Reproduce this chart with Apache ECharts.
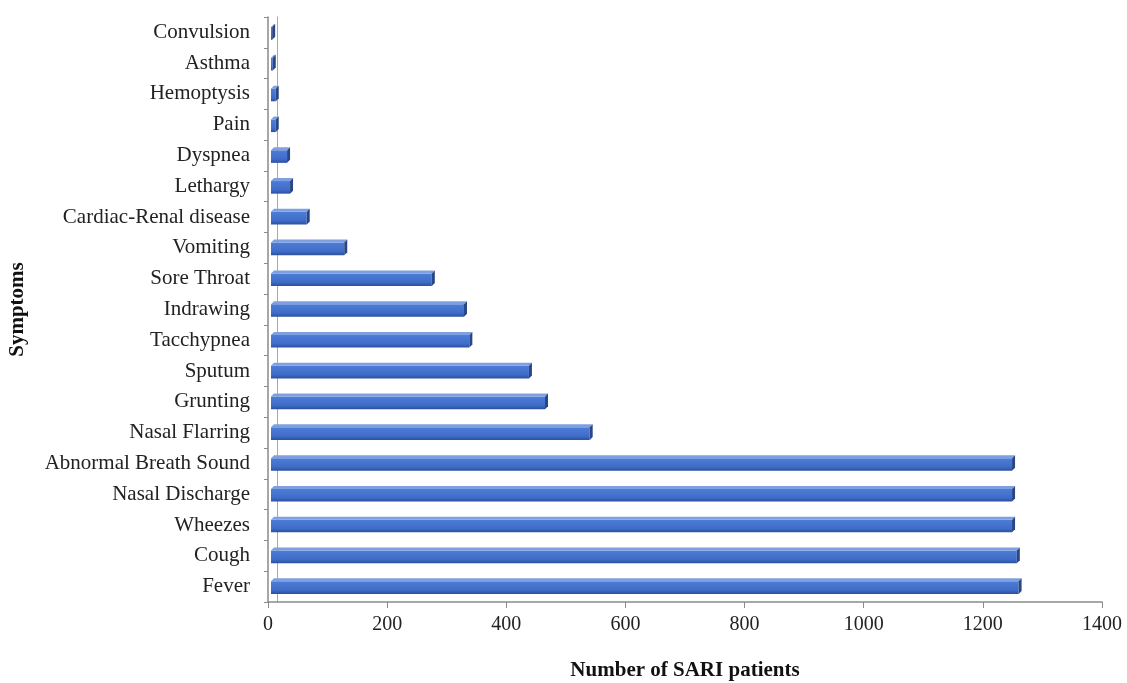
<!DOCTYPE html>
<html>
<head>
<meta charset="utf-8">
<script src="https://cdn.jsdelivr.net/npm/echarts@6/dist/echarts.min.js"></script>
<style>
  html, body { margin: 0; padding: 0; background: #fff; }
  #chart { width: 1127px; height: 683px; }
</style>
</head>
<body>
<div id="chart"></div>
<script>
// Symptoms, listed from the bottom row upwards
const symptoms = [
  'Fever', 'Cough', 'Wheezes', 'Nasal Discharge', 'Abnormal Breath Sound',
  'Nasal Flarring', 'Grunting', 'Sputum', 'Tacchypnea', 'Indrawing',
  'Sore Throat', 'Vomiting', 'Cardiac-Renal disease', 'Lethargy', 'Dyspnea',
  'Pain', 'Hemoptysis', 'Asthma', 'Convulsion'
];
// Number of SARI patients per symptom
const patients = [
  1260, 1257, 1249, 1249, 1249,
  540, 465, 438, 338, 329,
  275, 128, 65, 37, 32,
  13, 13, 8, 7
];
const xTicks = { min: 0, max: 1400, interval: 200 };

const FONT = '"Liberation Serif", "DejaVu Serif", serif';

const chart = echarts.init(document.getElementById('chart'));

// Bars drawn as a front face plus a thin top and end face for a raised look
function renderBar(params, api) {
  const idx = api.value(1);
  const base = api.coord([0, idx]);
  const tip = api.coord([api.value(0), idx]);
  const band = api.size([0, 1])[1];
  const h = band * 0.41;
  const d = 3;
  const y = base[1] - h / 2 + 1;
  const x0 = base[0] + 3;
  const x1 = Math.max(tip[0], x0 + 1);
  return {
    type: 'group',
    children: [
      {
        type: 'rect',
        shape: { x: x0, y: y, width: x1 - x0, height: h },
        style: {
          fill: new echarts.graphic.LinearGradient(0, 0, 0, 1, [
            { offset: 0, color: '#4D7DD6' },
            { offset: 0.7, color: '#3F6CC8' },
            { offset: 1, color: '#2B509E' }
          ])
        }
      },
      {
        type: 'polygon',
        shape: { points: [[x0, y], [x0 + d, y - d], [x1 + d, y - d], [x1, y]] },
        style: { fill: '#7E9FE0' }
      },
      {
        type: 'polygon',
        shape: { points: [[x1, y], [x1 + d, y - d], [x1 + d, y + h - d], [x1, y + h]] },
        style: { fill: '#294686' }
      }
    ]
  };
}

chart.setOption({
  animation: false,
  backgroundColor: '#ffffff',
  grid: { left: 268, right: 25, top: 17, bottom: 81, containLabel: false, outerBoundsMode: 'none' },
  xAxis: {
    type: 'value',
    min: xTicks.min,
    max: xTicks.max,
    interval: xTicks.interval,
    name: 'Number of SARI patients',
    nameLocation: 'middle',
    nameGap: 58,
    nameTextStyle: { fontFamily: FONT, fontSize: 21, fontWeight: 'bold', color: '#111' },
    axisLine: { show: true, lineStyle: { color: '#8a8a8a', width: 1.5 } },
    axisTick: { show: true, inside: false, length: 6, lineStyle: { color: '#8a8a8a' } },
    axisLabel: { fontFamily: FONT, fontSize: 20, color: '#222', margin: 13, formatter: (v) => String(v) },
    splitLine: { show: false }
  },
  yAxis: [
    {
      type: 'category',
      data: symptoms,
      name: 'Symptoms',
      nameLocation: 'middle',
      nameGap: 240,
      nameRotate: 90,
      nameTextStyle: { fontFamily: FONT, fontSize: 21, fontWeight: 'bold', color: '#111' },
      axisLine: { show: true, lineStyle: { color: '#8a8a8a', width: 1.5 } },
      axisTick: { show: true, length: 4, lineStyle: { color: '#8a8a8a' } },
      axisLabel: { fontFamily: FONT, fontSize: 21, color: '#222', margin: 18 }
    },
    {
      // back wall edge of the plot
      type: 'category',
      data: symptoms,
      position: 'left',
      offset: -9,
      axisLine: { show: true, lineStyle: { color: '#a8a8a8', width: 1 } },
      axisTick: { show: false },
      axisLabel: { show: false }
    }
  ],
  series: [
    {
      type: 'custom',
      yAxisIndex: 0,
      renderItem: renderBar,
      encode: { x: 0, y: 1 },
      data: patients.map((v, i) => [v, i])
    }
  ]
});
</script>
</body>
</html>
